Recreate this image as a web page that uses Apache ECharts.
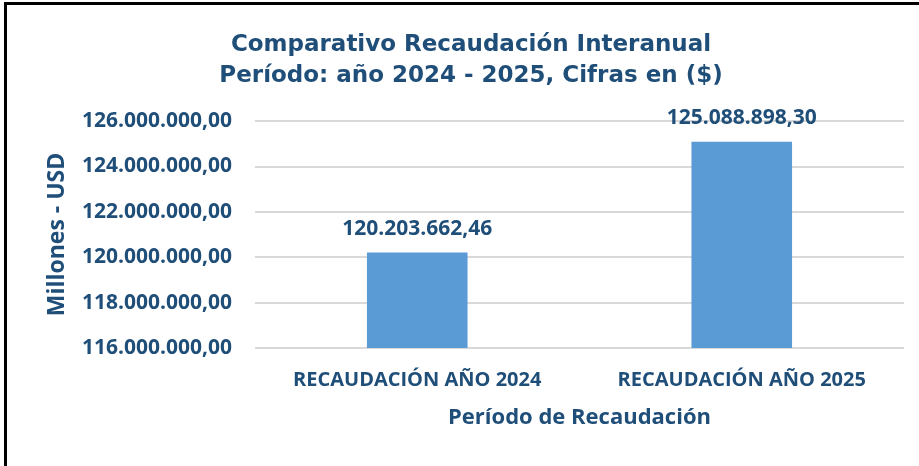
<!DOCTYPE html>
<html>
<head>
<meta charset="utf-8">
<script src="https://cdn.jsdelivr.net/npm/echarts@6/dist/echarts.min.js"></script>
<style>
  html, body { margin: 0; padding: 0; background: #fff; overflow: hidden; }
  #frame { position: absolute; left: 4px; top: 2px; width: 940px; height: 490px;
           border-top: 3px solid #000; border-left: 3px solid #000; }
  #chart { position: absolute; left: 0; top: 0; width: 919px; height: 466px; }
</style>
</head>
<body>
<div id="frame"></div>
<div id="chart"></div>
<script>
const categories = ['RECAUDACIÓN AÑO 2024', 'RECAUDACIÓN AÑO 2025'];
const recaudacion = [120203662.46, 125088898.30];
const yMin = 116000000;
const yMax = 126000000;
const yStep = 2000000;

const navy = '#1F4E79';
const labelFont = 'Open Sans';

// 120203662.46 -> 120.203.662,46
function fmt(v) {
    const parts = v.toFixed(2).split('.');
    return parts[0].replace(/\B(?=(\d{3})+(?!\d))/g, '.') + ',' + parts[1];
}

const myChart = echarts.init(document.getElementById('chart'));
const option = {
    animation: false,
    title: {
        text: 'Comparativo Recaudación Interanual\nPeríodo: año 2024 - 2025, Cifras en ($)',
        left: 466,
        top: 25,
        textAlign: 'center',
        textStyle: {
            color: navy,
            fontFamily: 'DejaVu Sans',
            fontWeight: 'bold',
            fontSize: 23,
            lineHeight: 31
        }
    },
    grid: {
        left: 255,
        right: 15,
        top: 121,
        bottom: 118
    },
    xAxis: {
        type: 'category',
        data: categories,
        name: 'Período de Recaudación',
        nameLocation: 'middle',
        nameGap: 59,
        nameTextStyle: {color: navy, fontFamily: labelFont, fontWeight: 'bold', fontSize: 22},
        axisLine: {show: false},
        axisTick: {show: false},
        axisLabel: {color: navy, fontFamily: labelFont, fontWeight: 'bold', fontSize: 20, margin: 22}
    },
    yAxis: {
        type: 'value',
        min: yMin,
        max: yMax,
        interval: yStep,
        name: 'Millones - USD',
        nameLocation: 'middle',
        nameGap: 186,
        nameTextStyle: {color: navy, fontFamily: labelFont, fontWeight: 'bold', fontSize: 23},
        axisLine: {show: false},
        axisTick: {show: false},
        axisLabel: {
            color: navy, fontFamily: labelFont, fontWeight: 'bold', fontSize: 21, margin: 23,
            formatter: v => fmt(v)
        },
        splitLine: {lineStyle: {color: '#D9D9D9', width: 2}}
    },
    series: [{
        type: 'bar',
        data: recaudacion,
        barWidth: '31%',
        itemStyle: {color: '#5B9BD5'},
        label: {
            show: true,
            position: 'top',
            distance: 13,
            color: navy,
            fontFamily: labelFont,
            fontWeight: 'bold',
            fontSize: 21,
            formatter: p => fmt(p.value)
        }
    }]
};
myChart.setOption(option);
</script>
</body>
</html>
